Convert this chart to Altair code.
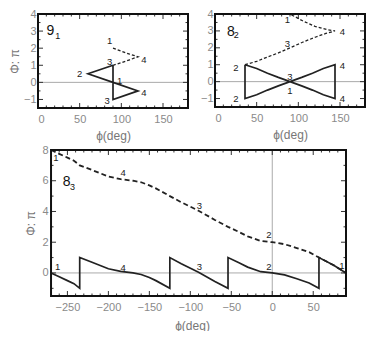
import altair as alt
import pandas as pd

# ---------------- panel 9_1 ----------------
p1_solid_phi = [90, 60, 90, 120, 90, 90]
p1_solid_val = [1.0, 0.5, 0.0, -0.5, -1.0, 1.0]
p1_dash_phi = [90, 100, 110, 120, 110, 100, 90]
p1_dash_val = [2.0, 1.82, 1.65, 1.5, 1.32, 1.15, 1.0]
p1_lab_text = ["1", "4", "3", "2", "1", "4", "3"]
p1_lab_phi = [86, 127, 86, 50, 98, 127, 83]
p1_lab_val = [2.4, 1.3, 1.2, 0.47, 0.08, -0.6, -1.1]

# ---------------- panel 8_2 ----------------
p2_solid_phi = [36, 50, 63, 76, 90, 104, 117, 130, 144, 144, 130, 117, 104, 90, 76, 63, 50, 36, 36]
p2_solid_val = [1, 0.78, 0.5, 0.25, 0, -0.25, -0.5, -0.78, -1, 1, 0.78, 0.5, 0.25, 0, -0.25, -0.5, -0.78, -1, 1]
p2_dash_phi = [36, 50, 62, 76, 90, 105, 121, 133, 144, 135, 120, 105, 90]
p2_dash_val = [1.0, 1.2, 1.44, 1.7, 2.0, 2.33, 2.64, 2.85, 3.0, 3.07, 3.27, 3.6, 4.0]
p2_lab_text = ["1", "4", "3", "2", "4", "3", "1", "2", "4"]
p2_lab_phi = [87, 153, 87, 25, 153, 90, 90, 25, 153]
p2_lab_val = [3.64, 2.94, 2.2, 0.8, 0.95, 0.29, -0.58, -1.0, -1.0]

# ---------------- panel 8_3 ----------------
p3_dash_phi = [-270, -260, -250, -242, -235, -220, -200, -185, -170, -160, -150, -142, -125,
               -111, -90, -70, -54, -40, -30, -14, 0, 15, 30, 45, 57, 75, 90]
p3_dash_val = [8.0, 7.75, 7.5, 7.3, 7.0, 6.7, 6.27, 6.1, 6.0, 5.9, 5.7, 5.5, 5.0,
               4.6, 4.05, 3.45, 3.0, 2.65, 2.38, 2.08, 2.0, 1.87, 1.62, 1.35, 1.0, 0.5, 0.0]
p3_solid_phi = [-270, -260, -250, -242, -235, -235, -220, -200, -185, -170, -160, -150, -142, -125,
                -125, -111, -90, -70, -54, -54, -40, -30, -14, 0, 15, 30, 45, 57, 57, 75, 90]
p3_solid_val = [0.0, -0.25, -0.5, -0.7, -1.0, 1.0, 0.7, 0.27, 0.1, 0.0, -0.1, -0.3, -0.5, -1.0,
                1.0, 0.6, 0.05, -0.55, -1.0, 1.0, 0.65, 0.38, 0.08, 0.0, -0.13, -0.38, -0.65, -1.0, 1.0, 0.5, 0.0]
p3_lab_text = ["1", "4", "3", "2", "1", "4", "3", "2", "1"]
p3_lab_phi = [-264, -182, -89, -4, -262, -182, -89, -4, 85]
p3_lab_val = [7.5, 6.48, 4.38, 2.45, 0.41, 0.3, 0.41, 0.41, 0.47]

# panel names (main digit, subscript)
names_main = ["9", "8", "8"]
names_sub = ["1", "2", "3"]
name_phi = [15, 19, -251]
name_val = [3.0, 2.94, 5.94]
sub_phi = [23.6, 25.5, -243.8]
sub_val = [2.72, 2.78, 5.58]

FONT = "Liberation Sans"
INK = "#222222"
GRAY = "#8a8a8a"


def line_df(phi, val):
    return pd.DataFrame({"phi": phi, "val": val, "i": list(range(len(phi)))})


def panel(idx, sphi, sval, dphi, dval, ltext, lphi, lval, xdom, ydom, w, h,
          xticks, yticks, ytitle, dash, dash_w, xlp, xtp, lp, tp, xminor, yminor,
          scale_lo=None, yoff=0):
    x_lo = xdom[0] if scale_lo is None else scale_lo
    xs = alt.Scale(domain=[x_lo, xdom[1]], nice=False, zero=False)
    ys = alt.Scale(domain=ydom, nice=False, zero=False)
    xax = alt.Axis(values=xticks, title="ϕ(deg)", labelPadding=xlp, titlePadding=xtp, labelOverlap=False)
    if ytitle is None:
        yax = alt.Axis(values=yticks, title=None, labelPadding=lp, labelOverlap=False)
    else:
        yax = alt.Axis(values=yticks, title=ytitle, labelPadding=lp, titlePadding=tp,
                       labelOverlap=False, offset=yoff)

    X = alt.X("phi:Q", scale=xs, axis=xax)
    Y = alt.Y("val:Q", scale=ys, axis=yax)

    # inner frame ticks (Mathematica style)
    px_per_x = (w - (xdom[0] - x_lo) * w / (xdom[1] - x_lo)) / (xdom[1] - xdom[0])
    px_per_y = h / (ydom[1] - ydom[0])
    tick_rows = []
    for v in xminor:
        ln = (5 if v in xticks else 2.5) / px_per_y
        tick_rows.append({"phi": v, "phi2": v, "val": ydom[0], "val2": ydom[0] + ln})
        tick_rows.append({"phi": v, "phi2": v, "val": ydom[1], "val2": ydom[1] - ln})
    for v in yminor:
        ln = (5 if v in yticks else 2.5) / px_per_x
        tick_rows.append({"phi": xdom[0], "phi2": xdom[0] + ln, "val": v, "val2": v})
        tick_rows.append({"phi": xdom[1], "phi2": xdom[1] - ln, "val": v, "val2": v})
    ticks = alt.Chart(pd.DataFrame(tick_rows)).mark_rule(color="#333333", strokeWidth=1).encode(
        x=X, x2="phi2:Q", y=Y, y2="val2:Q")

    lim = pd.DataFrame({"phi": [xdom[0]], "phi2": [xdom[1]], "val": [ydom[0]], "val2": [ydom[1]]})
    frame = alt.Chart(lim).mark_rect(fill=None, stroke="#111111", strokeWidth=2).encode(
        x=X, x2="phi2:Q", y=Y, y2="val2:Q")
    zero = alt.Chart(pd.DataFrame({"phi": [xdom[0]], "phi2": [xdom[1]], "val": [0]})).mark_rule(
        color="#aaaaaa", strokeWidth=1).encode(x=X, x2="phi2:Q", y=Y)
    layers = [zero]
    if xdom[0] < 0 < xdom[1]:
        layers.append(alt.Chart(pd.DataFrame({"phi": [0], "val": [ydom[0]], "val2": [ydom[1]]})).mark_rule(
            color="#aaaaaa", strokeWidth=1).encode(x=X, y=Y, y2="val2:Q"))
    dashed = alt.Chart(line_df(dphi, dval)).mark_line(
        color=INK, strokeWidth=dash_w, strokeDash=dash, clip=True).encode(x=X, y=Y, order="i:Q")
    solid = alt.Chart(line_df(sphi, sval)).mark_line(
        color=INK, strokeWidth=1.7, clip=True).encode(x=X, y=Y, order="i:Q")
    labs = alt.Chart(pd.DataFrame({"t": ltext, "phi": lphi, "val": lval})).mark_text(
        font=FONT, fontSize=9.5, color=INK).encode(x=X, y=Y, text="t:N")
    nm = alt.Chart(pd.DataFrame({"t": [names_main[idx]], "phi": [name_phi[idx]], "val": [name_val[idx]]})).mark_text(
        font=FONT, fontSize=14, color="#111111").encode(x=X, y=Y, text="t:N")
    sb = alt.Chart(pd.DataFrame({"t": [names_sub[idx]], "phi": [sub_phi[idx]], "val": [sub_val[idx]]})).mark_text(
        font=FONT, fontSize=9, color="#111111").encode(x=X, y=Y, text="t:N")
    layers += [ticks, dashed, solid, labs, nm, sb, frame]
    return alt.layer(*layers).properties(width=w, height=h)


top_xminor = list(range(10, 180, 10))
top_yminor = [-1, -0.5, 0, 0.5, 1, 1.5, 2, 2.5, 3, 3.5]
bot_xminor = list(range(-260, 90, 10))
bot_yminor = [-1, 0, 1, 2, 3, 4, 5, 6, 7]

c1 = panel(0, p1_solid_phi, p1_solid_val, p1_dash_phi, p1_dash_val, p1_lab_text, p1_lab_phi, p1_lab_val,
           [0, 180], [-1.5, 4], 150, 94, [0, 50, 100, 150], [-1, 0, 1, 2, 3, 4], "Φ: π", [3, 2], 1.3,
           5, 6, 2, 2, top_xminor, top_yminor)
c2 = panel(1, p2_solid_phi, p2_solid_val, p2_dash_phi, p2_dash_val, p2_lab_text, p2_lab_phi, p2_lab_val,
           [0, 180], [-1.5, 4], 150, 93, [0, 50, 100, 150], [-1, 0, 1, 2, 3, 4], None, [3, 2], 1.3,
           5, 6, 2, 2, top_xminor, top_yminor)
# bottom panel: plot area starts 13 px left of its frame (frame drawn from -270)
c3 = panel(2, p3_solid_phi, p3_solid_val, p3_dash_phi, p3_dash_val, p3_lab_text, p3_lab_phi, p3_lab_val,
           [-270, 90], [-1.5, 8], 308, 146, [-250, -200, -150, -100, -50, 0, 50], [0, 2, 4, 6, 8], "Φ: π",
           [5, 3], 1.8, 5, 8, 3, 4, bot_xminor, bot_yminor, scale_lo=-285.9, yoff=-13)

top = alt.hconcat(c1, c2, spacing=11)
chart = alt.vconcat(top, c3, spacing=3).properties(
    padding={"left": 0, "top": 0, "right": 0, "bottom": 0}
).configure_view(stroke=None).configure_axis(
    grid=False, ticks=False, domain=False, labelColor=GRAY, titleColor="#777777",
    labelFont=FONT, titleFont=FONT, labelFontSize=11, titleFontSize=12, titleFontWeight="normal"
)

chart.save("out.html", embed_options={"renderer": "svg", "actions": False})
